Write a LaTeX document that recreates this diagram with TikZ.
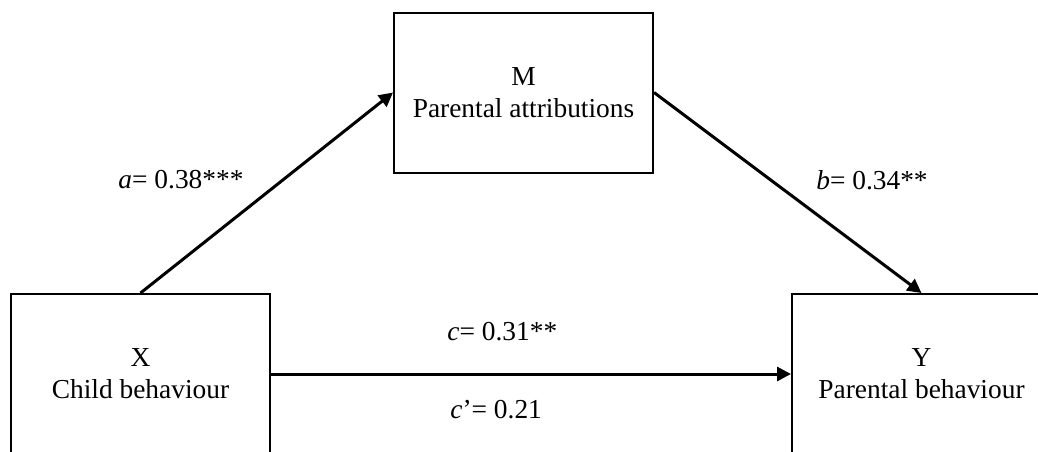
\documentclass[tikz,border=0pt]{standalone}
\usepackage{fontspec}
\setmainfont{Liberation Serif}
\usetikzlibrary{arrows.meta,calc}
\begin{document}
\begin{tikzpicture}[x=0.5pt,y=-0.5pt,
  varbox/.style={draw=black,line width=1pt,minimum width=129.5pt,minimum height=80pt,
    align=center,inner sep=0pt,font=\fontsize{13.7}{16}\selectfont},
  path/.style={line width=1.5pt,-{Triangle[length=7pt,width=7pt]}},
  coef/.style={font=\fontsize{13.7}{16}\selectfont,inner sep=0pt}]
\clip (0,0) rectangle (1038,451);
\fill[white] (0,0) rectangle (1038,451);
\node[varbox] (M) at (523.5,92.5) {M\\Parental attributions};
\node[varbox] (X) at (140.5,374) {X\\Child behaviour};
\node[varbox] (Y) at (921.5,374) {Y\\Parental behaviour};
\draw[path] (X.north) -- (M.west);
\draw[path] (M.east) -- (Y.north);
\draw[path] (X.east) -- (Y.west);
\node[coef] (la) at (181,180) {\textit{a}= 0.38***};
\node[coef] (lb) at (872,180) {\textit{b}= 0.34**};
\node[coef,anchor=west] (lc) at (447,332) {\textit{c}= 0.31**};
\node[coef,anchor=west] (lcp) at (450,410) {\textit{c}’= 0.21};
\end{tikzpicture}
\end{document}
